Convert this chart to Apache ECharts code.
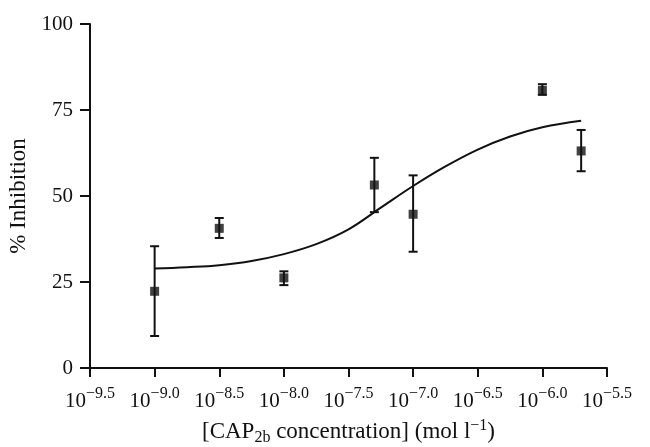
<!DOCTYPE html>
<html>
<head>
    <meta charset="utf-8">
    <title>CAP2b inhibition</title>
    <style>
        html,body{
            margin: 0;
            padding: 0;
            background: #ffffff;
        }
        #chart{
            width: 650px;
            height: 447px;
        }
    </style>
</head>
<body>
<div id="chart"></div>
<script src="https://cdn.jsdelivr.net/npm/echarts@6/dist/echarts.min.js"></script>
<script>
    // measured points: log10 of concentration, mean and error bar ends
    var pointX=[-9.0,-8.5,-8.0,-7.3,-7.0,-6.0,-5.7];
    var pointY=[22.3,40.6,26.2,53.2,44.7,80.7,63.1];
    var errLow=[9.3,37.8,24.1,45.3,33.8,79.4,57.2];
    var errHigh=[35.4,43.6,28.1,61.1,56.0,82.5,69.2];
    // fitted curve
    var curveX=[-9.0,-8.75,-8.5,-8.25,-8.0,-7.75,-7.5,-7.25,-7.0,-6.75,-6.5,-6.25,-6.0,-5.7];
    var curveY=[28.9,29.3,29.9,31.1,33.1,36.0,40.3,46.6,52.9,58.6,63.5,67.3,70.0,71.9];
    var yTicks=[0,25,50,75,100];

    var ink='#111111';
    var serif='"Liberation Serif","Times New Roman",serif';

    var chart=echarts.init(document.getElementById('chart'));

    var points=[];
    var bars=[];
    for(var i=0;i<pointX.length;i++){
        points.push([pointX[i],pointY[i]]);
        bars.push([pointX[i],errLow[i],errHigh[i]]);
    }
    var curve=[];
    for(var j=0;j<curveX.length;j++){
        curve.push([curveX[j],curveY[j]]);
    }

    function errorBar(params,api){
        var x=api.value(0);
        var lo=api.coord([x,api.value(1)]);
        var hi=api.coord([x,api.value(2)]);
        var w=4.5;
        var style={stroke:ink,lineWidth:2};
        return {
            type:'group',
            children:[
                {type:'line',shape:{x1:lo[0],y1:lo[1],x2:hi[0],y2:hi[1]},style:style},
                {type:'line',shape:{x1:lo[0]-w,y1:lo[1],x2:lo[0]+w,y2:lo[1]},style:style},
                {type:'line',shape:{x1:hi[0]-w,y1:hi[1],x2:hi[0]+w,y2:hi[1]},style:style}
            ]
        };
    }

    var option={
        animation:false,
        backgroundColor:'#ffffff',
        grid:{
            left:90,
            right:43,
            top:24,
            bottom:79,
            containLabel:false,
            outerBoundsMode:'none'
        },
        xAxis:{
            type:'value',
            min:-9.5,
            max:-5.5,
            interval:0.5,
            name:'{t|[CAP}{sub|2b}{t| concentration] (mol l}{sup|\u22121}{t|)}',
            nameLocation:'middle',
            nameGap:50,
            nameTextStyle:{
                fontFamily:serif,
                fontSize:23,
                rich:{
                    t:{fontFamily:serif,fontSize:23,color:ink,lineHeight:28,verticalAlign:'middle'},
                    sub:{fontFamily:serif,fontSize:16,color:ink,lineHeight:16,verticalAlign:'bottom'},
                    sup:{fontFamily:serif,fontSize:16,color:ink,lineHeight:16,verticalAlign:'top'}
                }
            },
            splitLine:{show:false},
            axisLine:{onZero:false,lineStyle:{color:ink,width:2}},
            axisTick:{length:9,lineStyle:{color:ink,width:2}},
            axisLabel:{
                margin:18,
                fontFamily:serif,
                fontSize:21,
                formatter:function(v){
                    return '{b|10}{s|\u2212'+Math.abs(v).toFixed(1)+'}';
                },
                rich:{
                    b:{fontFamily:serif,fontSize:21,color:ink,lineHeight:26,verticalAlign:'bottom'},
                    s:{fontFamily:serif,fontSize:16,color:ink,lineHeight:16,verticalAlign:'top'}
                }
            }
        },
        yAxis:{
            type:'value',
            min:yTicks[0],
            max:yTicks[yTicks.length-1],
            interval:yTicks[1]-yTicks[0],
            name:'% Inhibition',
            nameLocation:'middle',
            nameGap:57,
            nameTextStyle:{fontFamily:serif,fontSize:23,color:ink},
            splitLine:{show:false},
            axisLine:{onZero:false,lineStyle:{color:ink,width:2}},
            axisTick:{length:10,lineStyle:{color:ink,width:2}},
            axisLabel:{margin:17,fontFamily:serif,fontSize:21,color:ink}
        },
        series:[
            {
                type:'line',
                data:curve,
                smooth:0.4,
                showSymbol:false,
                lineStyle:{color:ink,width:2},
                z:2
            },
            {
                type:'custom',
                data:bars,
                renderItem:errorBar,
                z:3
            },
            {
                type:'scatter',
                data:points,
                symbol:'rect',
                symbolSize:9,
                itemStyle:{color:ink},
                z:4
            }
        ]
    };
    chart.setOption(option);
</script>
</body>
</html>
